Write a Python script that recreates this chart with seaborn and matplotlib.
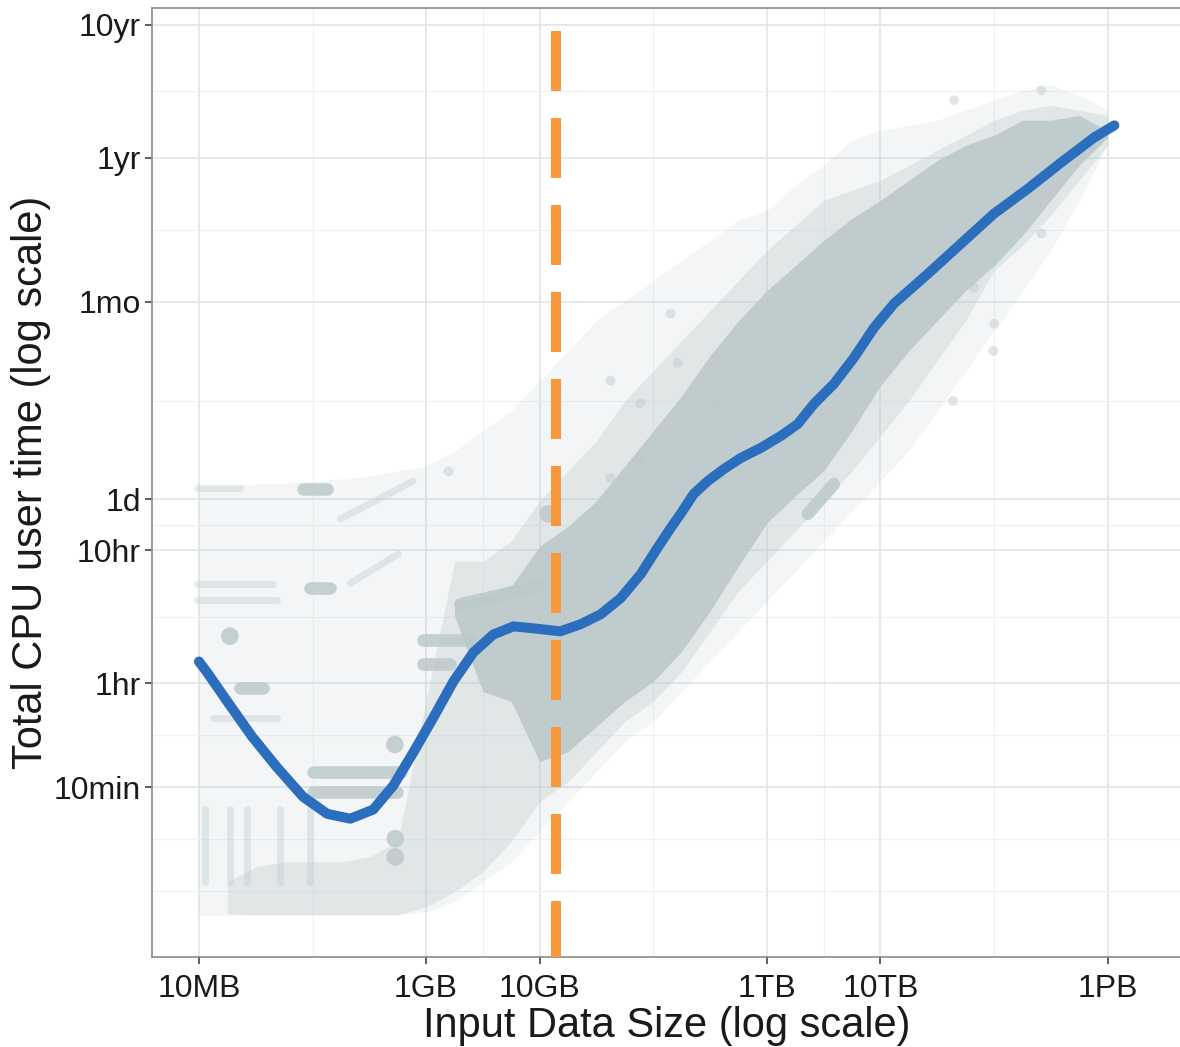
import matplotlib

matplotlib.use("Agg")

import matplotlib.pyplot as plt
import numpy as np
import seaborn as sns
from matplotlib.ticker import FixedLocator, NullFormatter

# ---- data (input size in GB, total CPU time in hours) ----
trend_gb = [0.01, 0.0118, 0.0180, 0.0293, 0.0488, 0.0826, 0.135, 0.215, 0.342, 0.514,
            0.771, 1.16, 1.74, 2.61, 3.91, 5.88, 8.81, 15.2, 22.9, 34.4,
            51.6, 77.5, 109, 142, 174, 227, 302, 418, 590, 885,
            1330, 1876, 2597, 3899, 5848, 8790, 13180, 26300, 51400, 100500,
            200400, 391700, 765600, 1148000]
trend_hr = [1.46, 1.21, 0.720, 0.400, 0.234, 0.141, 0.105, 0.0966, 0.113, 0.171,
            0.303, 0.555, 1.035, 1.71, 2.33, 2.68, 2.59, 2.46, 2.78, 3.30,
            4.36, 6.60, 10.4, 14.6, 18.7, 26.4, 33.0, 40.6, 49.2, 58.5,
            72.0, 88.6, 125, 177, 278, 467, 708, 1189, 2000, 3360,
            5180, 8130, 12530, 15400]

cutoff_gb = 14
cutoff_top_hr = 78500

# point cloud envelopes read per column (outer haze / medium / dense core)
cloud_gb = [0.01, 0.0178, 0.0316, 0.0562, 0.1, 0.178, 0.316, 0.562, 1, 1.78,
            3.16, 5.62, 10, 17.8, 31.6, 56.2, 100, 178, 316, 562,
            1000, 1780, 3160, 5620, 10000, 17800, 31600, 56200, 100000, 178000,
            316000, 562000, 1000000]
nan = np.nan
haze_top = [30.3, 30.3, 31.3, 31.9, 33.0, 34.2, 36.0, 39.3, 42.8, 55.5,
            78.5, 111, 187, 313, 527, 745, 1054, 1489, 2105, 2980,
            3540, 5460, 7710, 11890, 14130, 15400, 16820, 19990, 23760, 28250,
            30800, 25900, 19990]
haze_bottom = [0.0183, 0.0183, 0.0183, 0.0183, 0.0183, 0.0183, 0.0183, 0.0183, 0.0193, 0.0230,
               0.0324, 0.0459, 0.0771, 0.130, 0.218, 0.366, 0.518, 0.871, 1.46, 2.46,
               4.14, 6.95, 11.7, 19.6, 33.0, 55.5, 111, 222, 443, 885,
               1770, 4210, 10900]
mid_top = [nan, 0.0324, 0.0421, 0.0459, 0.0459, 0.0459, 0.0500, 0.0649, 0.732, 8.26,
           8.26, 11.7, 23.4, 39.3, 66.1, 132, 222, 373, 627, 1054,
           1770, 2730, 4210, 5000, 5950, 7710, 10000, 12970, 16820, 19990,
           21800, 19990, 18330]
mid_bottom = [nan, 0.0187, 0.0183, 0.0183, 0.0183, 0.0183, 0.0183, 0.0183, 0.0211, 0.0273,
              0.0386, 0.0649, 0.130, 0.183, 0.308, 0.518, 0.732, 1.23, 2.46, 4.92,
              8.26, 13.9, 23.4, 39.3, 72.0, 132, 264, 527, 1253, 1932,
              3245, 5950, 10900]
core_top = [nan, nan, nan, nan, nan, nan, nan, nan, nan, 4.14,
            4.51, 5.36, 10.7, 15.1, 23.4, 42.8, 78.5, 144, 288, 527,
            885, 1365, 2105, 3080, 4210, 5950, 8410, 10900, 12970, 16820,
            16820, 18330, 14000]
core_bottom = [nan, nan, nan, nan, nan, nan, nan, nan, nan, 3.2,
               0.871, 0.732, 0.259, 0.308, 0.475, 0.732, 1.035, 1.74, 3.48, 7.58,
               16.0, 25.5, 39.3, 78.5, 171, 313, 527, 885, 1365, 2296,
               4210, 7710, 12500]

# streaks of repeated jobs: (gb start, hr start, gb end, hr end)
dense_streaks = [
    (0.0826, 28.8, 0.135, 28.8),
    (0.0953, 5.19, 0.143, 5.19),
    (0.944, 2.11, 2.45, 2.11),
    (0.944, 1.41, 1.63, 1.41),
    (0.023, 0.93, 0.0366, 0.93),
    (0.101, 0.218, 0.60, 0.218),
    (0.101, 0.154, 0.557, 0.154),
    (2.01, 3.93, 9.57, 5.36),
    (2296, 18.7, 3899, 31.3),
]
faint_streaks = [
    (0.0096, 29.3, 0.023, 29.3),
    (0.0096, 5.55, 0.0449, 5.55),
    (0.0096, 4.21, 0.0488, 4.21),
    (0.0133, 0.546, 0.0488, 0.546),
    (0.175, 17.1, 0.771, 33.0),
    (0.215, 5.65, 0.569, 9.33),
    (341, 136, 360, 120),
    (0.0113, 0.115, 0.0113, 0.0324),
    (0.0187, 0.115, 0.0187, 0.0324),
    (0.0265, 0.115, 0.0265, 0.0324),
    (0.0518, 0.115, 0.0518, 0.0324),
    (0.0953, 0.115, 0.0953, 0.0324),
]
blob_gb = [0.0187, 0.53, 0.535, 0.535, 11.97]
blob_hr = [2.26, 0.348, 0.0684, 0.050, 18.7]
stray_gb = [42, 77, 1.57, 164, 142, 42, 77.5, 43600, 66800, 100500, 98400, 261000, 44600, 261000]
stray_hr = [187, 127, 39, 255, 595, 34.8, 49.2, 132, 933, 500, 313, 2377, 23760, 28250]

x_ticks_gb = [0.01, 1, 10, 1000, 10000, 1000000]
x_tick_labels = ["10MB", "1GB", "10GB", "1TB", "10TB", "1PB"]
y_ticks_hr = [1 / 6, 1, 10, 24, 730.5, 8766, 87660]
y_tick_labels = ["10min", "1hr", "10hr", "1d", "1mo", "1yr", "10yr"]

# ---- style ----
sns.set_theme(style="white")
plt.rcParams["font.family"] = ["Liberation Sans", "DejaVu Sans"]

CLOUD = "#bcc9ca"
BLUE = "#2b6ebe"
ORANGE = "#f7993b"

fig = plt.figure(figsize=(11.8, 10.47), dpi=100)
ax = fig.add_axes([0.1288, 0.0860, 0.8725, 0.9063])
ax.set_xscale("log")
ax.set_yscale("log")

ax.fill_between(cloud_gb, haze_bottom, haze_top, color=CLOUD, alpha=0.17, lw=0, zorder=1)
ax.fill_between(cloud_gb, mid_bottom, mid_top, color=CLOUD, alpha=0.32, lw=0, zorder=1)
ax.fill_between(cloud_gb, core_bottom, core_top, color=CLOUD, alpha=0.9, lw=0, zorder=1)

for x0, y0, x1, y1 in faint_streaks:
    ax.plot([x0, x1], [y0, y1], color=CLOUD, alpha=0.35, lw=5, solid_capstyle="round", zorder=2)
for x0, y0, x1, y1 in dense_streaks:
    ax.plot([x0, x1], [y0, y1], color=CLOUD, alpha=0.85, lw=9, solid_capstyle="round", zorder=2)

sns.scatterplot(x=blob_gb, y=blob_hr, s=160, color=CLOUD, alpha=0.85, edgecolor="none", ax=ax, zorder=2)
sns.scatterplot(x=stray_gb, y=stray_hr, s=50, color=CLOUD, alpha=0.45, edgecolor="none", ax=ax, zorder=2)

ax.plot([cutoff_gb, cutoff_gb], [cutoff_top_hr, 0.005], color=ORANGE, lw=7.2,
        dashes=(6, 2.7), solid_capstyle="butt", dash_capstyle="butt", zorder=3)
sns.lineplot(x=trend_gb, y=trend_hr, sort=False, estimator=None, color=BLUE, lw=7.2, ax=ax, zorder=4)

ax.set_xlim(0.00386, 4.48e6)
ax.set_ylim(0.00886, 116900)

ax.set_xticks(x_ticks_gb)
ax.set_xticklabels(x_tick_labels)
ax.set_yticks(y_ticks_hr)
ax.set_yticklabels(y_tick_labels)

x_minor = [np.sqrt(a * b) for a, b in zip(x_ticks_gb[:-1], x_ticks_gb[1:])]
y_ext = [y_ticks_hr[0] ** 2 / y_ticks_hr[1]] + y_ticks_hr
y_minor = [y_ext[0]] + [np.sqrt(a * b) for a, b in zip(y_ext[:-1], y_ext[1:])]
ax.xaxis.set_minor_locator(FixedLocator(x_minor))
ax.yaxis.set_minor_locator(FixedLocator(y_minor))
ax.xaxis.set_minor_formatter(NullFormatter())
ax.yaxis.set_minor_formatter(NullFormatter())

ax.set_axisbelow(True)
ax.grid(which="major", color="#dde3e6", lw=1.1)
ax.grid(which="minor", color="#eef1f3", lw=0.8)

ax.tick_params(which="major", length=5, width=1.1, color="#333333", labelsize=23,
               labelcolor="#1a1a1a", bottom=True, left=True)
ax.tick_params(axis="x", which="major", pad=7)
ax.tick_params(axis="y", which="major", pad=3)
ax.tick_params(which="minor", length=0)

for side, sp in ax.spines.items():
    sp.set_color("#8a8a8a")
    sp.set_linewidth(1.2)
ax.spines["right"].set_visible(False)

ax.set_xlabel("Input Data Size (log scale)", fontsize=30, color="#1a1a1a", labelpad=2)
ax.set_ylabel("Total CPU user time (log scale)", fontsize=30, color="#1a1a1a", labelpad=2)

fig.savefig("out.png", dpi=100)
plt.close(fig)
